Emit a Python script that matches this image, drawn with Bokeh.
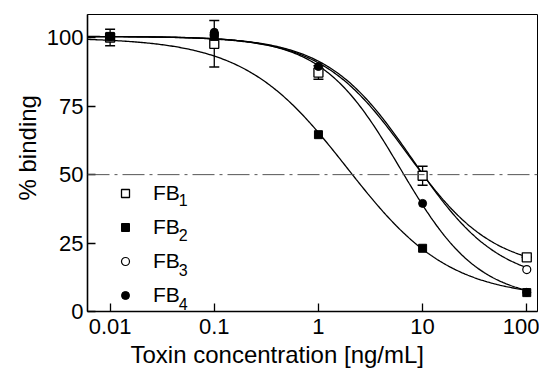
import numpy as np
from bokeh.plotting import figure
from bokeh.models import (Range1d, FixedTicker, Span, Whisker, TeeHead, ColumnDataSource,
                          Legend, LegendItem, Label, Title)
from bokeh.embed import file_html
from bokeh.resources import INLINE

# ---- data ----
conc = [0.01, 0.1, 1, 10, 100]
fb1 = [100.1, 97.8, 87.3, 49.6, 19.8]
fb1_err = [3.0, 8.5, 2.5, 3.5, 0.0]
fb2 = [100.5, 100.5, 64.6, 23.1, 6.9]
fb3 = [100.0, 101.0, 88.5, 49.6, 15.3]
fb4 = [100.5, 102.0, 89.5, 39.5, 7.0]
series_base = ["FB", "FB", "FB", "FB"]
series_sub = ["1", "2", "3", "4"]

# four-parameter logistic fit parameters (top, bottom, EC50, Hill slope)
fit_top = [100.5, 100.0, 100.5, 100.5]
fit_bottom = [15.0, 5.0, 10.0, 4.0]
fit_ec50 = [7.1, 1.88, 8.1, 6.1]
fit_hill = [1.05, 0.88, 1.05, 1.15]

x_ticks = [0.01, 0.1, 1, 10, 100]
x_tick_labels = ["0.01", "0.1", "1", "10", "100"]
y_ticks = [0, 25, 50, 75, 100]

FONT = "Liberation Sans"

p = figure(width=539, height=375, x_axis_type="log",
           x_range=Range1d(10 ** -2.217, 10 ** 2.103), y_range=Range1d(0, 108.5),
           output_backend="svg", toolbar_location=None,
           min_border_left=87, min_border_right=2, min_border_top=14, min_border_bottom=64)
p.grid.visible = False
p.outline_line_color = "black"
p.outline_line_width = 1
p.background_fill_color = "white"
p.border_fill_color = "white"

# 50% reference line
p.add_layout(Span(location=50, dimension="width", line_color="#555555",
                  line_width=1, line_dash="22 5 3 5"))

# fitted curves
xs = np.logspace(-2.217, 2, 300)
for t, b, c, h in zip(fit_top, fit_bottom, fit_ec50, fit_hill):
    ys = b + (t - b) / (1 + (xs / c) ** h)
    p.line(xs, ys, line_color="black", line_width=1.3)

# error bars for FB1
lo = [v - e for v, e in zip(fb1, fb1_err)]
hi = [v + e for v, e in zip(fb1, fb1_err)]
src = ColumnDataSource(dict(x=conc, lower=lo, upper=hi))
w = Whisker(base="x", lower="lower", upper="upper", source=src, line_color="black",
            line_width=1.3,
            upper_head=TeeHead(size=10, line_color="black", line_width=1.5),
            lower_head=TeeHead(size=10, line_color="black", line_width=1.5))
p.add_layout(w)

r3 = p.scatter(conc, fb3, marker="circle", size=8, fill_color="white",
               line_color="black", line_width=1.2)
r1 = p.scatter(conc, fb1, marker="square", size=9, fill_color="white",
               line_color="black", line_width=1.3)
r4 = p.scatter(conc, fb4, marker="circle", size=8, fill_color="black",
               line_color="black")
r2 = p.scatter(conc, fb2, marker="square", size=8, fill_color="black",
               line_color="black")

renderers = [r1, r2, r3, r4]
legend = Legend(items=[LegendItem(label=n, renderers=[r]) for n, r in zip(series_base, renderers)],
                location=(28, 4), padding=0, margin=0, spacing=10,
                glyph_width=20, glyph_height=20, label_height=20,
                label_standoff=18, background_fill_alpha=0, border_line_alpha=0,
                label_text_font=FONT, label_text_font_size="21px",
                label_text_color="black")
p.add_layout(legend, "center")

# subscripts of legend labels (placed right after "FB")
sub_x = 10 ** -1.341
sub_y = [44.2, 31.4, 18.6, 5.9]
for s, yy in zip(series_sub, sub_y):
    p.add_layout(Label(x=sub_x, y=yy, text=s, y_offset=-9, text_font=FONT,
                       text_font_size="16px", text_baseline="alphabetic",
                       text_align="left", text_color="black"))

# axes
for ax in (p.xaxis[0], p.yaxis[0]):
    ax.axis_line_color = "black"
    ax.axis_line_width = 1.6
    ax.major_tick_line_color = "black"
    ax.major_tick_line_width = 1.3
    ax.major_tick_in = 8
    ax.major_tick_out = 0
    ax.minor_tick_line_color = None
    ax.major_label_text_font = FONT
    ax.major_label_text_font_size = "22px"
    ax.major_label_text_color = "black"

p.xaxis.ticker = FixedTicker(ticks=x_ticks, minor_ticks=[])
p.xaxis.major_label_overrides = {t: l for t, l in zip(x_ticks, x_tick_labels)}
p.xaxis.major_label_standoff = 7

p.yaxis.ticker = FixedTicker(ticks=y_ticks, minor_ticks=[])
p.yaxis.major_label_standoff = 4

p.add_layout(Title(text="Toxin concentration [ng/mL]", align="left", offset=43,
                   text_font=FONT, text_font_size="24px", text_font_style="normal",
                   text_color="black", standoff=4), "below")
p.add_layout(Title(text="% binding", align="left", offset=111,
                   text_font=FONT, text_font_size="24px", text_font_style="normal",
                   text_color="black", standoff=5), "left")

open("out.html", "w").write(file_html(p, INLINE))
